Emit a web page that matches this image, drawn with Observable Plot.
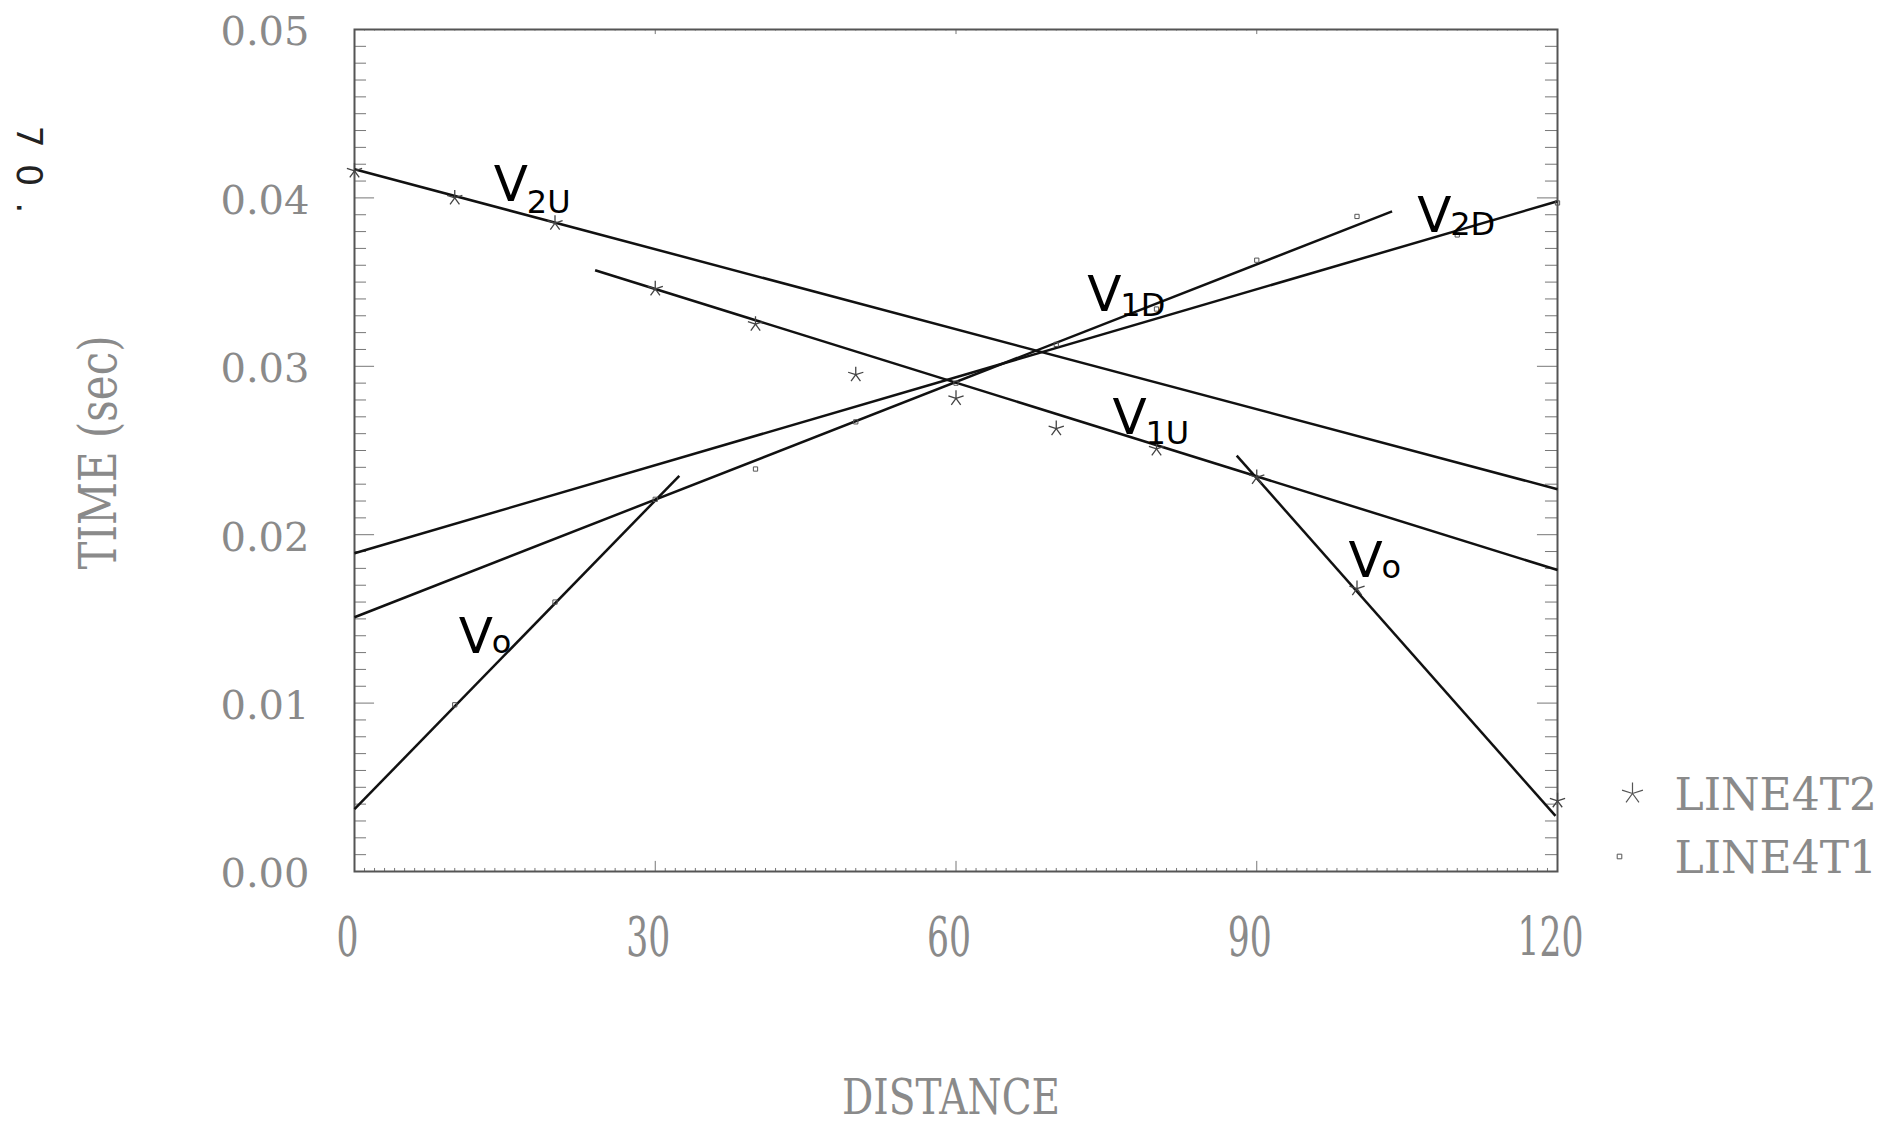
<!DOCTYPE html>
<html><head><meta charset="utf-8">
<script src="https://cdn.jsdelivr.net/npm/d3@7"></script>
<script src="https://cdn.jsdelivr.net/npm/@observablehq/plot@0.6"></script>
<style>body{margin:0;background:#fff}#chart{width:1878px;height:1125px}</style>
</head><body><div id="chart"></div>
<script>
// ---- data ----
const seriesNames = ["LINE4T2", "LINE4T1"];
const t2Distance = [0, 10, 20, 30, 40, 50, 60, 70, 80, 90, 100, 120];
const t2Time = [0.0416, 0.0400, 0.0385, 0.0346, 0.0325, 0.0295, 0.0281, 0.0263, 0.0251, 0.0234, 0.0168, 0.0042];
const t1Distance = [10, 20, 30, 40, 50, 60, 70, 80, 90, 100, 110, 120];
const t1Time = [0.0099, 0.0160, 0.0221, 0.0239, 0.0267, 0.0290, 0.0313, 0.0334, 0.0363, 0.0389, 0.0378, 0.0397];

// hand-drawn velocity lines (end points in data units)
const fitNames = ["V2U", "V1U", "V2D", "V1D", "Vo", "Vo"];
const fitX1 = [0, 24, 0, 0, 0, 88];
const fitT1 = [0.0417, 0.0357, 0.0189, 0.0151, 0.0037, 0.0247];
const fitX2 = [120, 120, 120, 103.5, 32.4, 119.8];
const fitT2 = [0.0227, 0.0179, 0.0398, 0.0392, 0.0235, 0.0033];

// handwritten labels: main letter + subscript, anchored in data units
const labelMain = ["V", "V", "V", "V", "V", "V"];
const labelSub = ["2U", "1D", "1U", "2D", "o", "o"];
const labelX = [13.9, 73.1, 75.6, 106.0, 10.4, 99.15];
const labelT = [0.0398, 0.0333, 0.0260, 0.0380, 0.0130, 0.0175];
const subT = [0.0391, 0.0330, 0.0254, 0.0378, 0.0130, 0.0174];

const xTicks = [0, 30, 60, 90, 120];
const yTicks = [0, 0.01, 0.02, 0.03, 0.04, 0.05];
const xLabel = "DISTANCE";
const yLabel = "TIME (sec)";
const note = "70.";

// ---- build tables ----
const stars = t2Distance.map((d, i) => ({x: d, t: t2Time[i]}));
const squares = t1Distance.map((d, i) => ({x: d, t: t1Time[i]}));
const fits = fitNames.map((n, i) => ({name: n, x1: fitX1[i], t1: fitT1[i], x2: fitX2[i], t2: fitT2[i]}));
const mains = labelMain.map((s, i) => ({s, x: labelX[i], t: labelT[i]}));
const subs = labelSub.map((s, i) => ({s, x: labelX[i], t: subT[i]}));
const yMinor = d3.range(0, 51).map(i => i / 1000);
const xMinor = d3.range(0, 121);

const star5 = {
  draw(ctx, size) {
    const r = Math.sqrt(size / Math.PI);
    for (let i = 0; i < 5; i++) {
      const a = i * 2 * Math.PI / 5;
      ctx.moveTo(0, 0);
      ctx.lineTo(r * Math.sin(a), -r * Math.cos(a));
    }
  }
};

const gray = "#8a8a8a";
const ylen = d => (Math.round(d * 1000) % 10 === 0 ? 2.0 : 1.2);
const xlen = d => (d % 30 === 0 ? 0.0006 : 0.00018);

const svg = Plot.plot({
  width: 1878, height: 1125,
  marginLeft: 354, marginRight: 321, marginTop: 29, marginBottom: 254,
  x: {domain: [0, 120], axis: null},
  y: {domain: [0, 0.05], axis: null},
  style: {background: "#fff", overflow: "visible"},
  marks: [
    // inner ticks
    Plot.ruleY(yMinor, {y: d => d, x1: 0, x2: ylen, stroke: "#777", strokeWidth: 1}),
    Plot.ruleY(yMinor, {y: d => d, x1: 120, x2: d => 120 - ylen(d), stroke: "#777", strokeWidth: 1}),
    Plot.ruleX(xMinor, {x: d => d, y1: 0, y2: xlen, stroke: "#777", strokeWidth: 1}),
    Plot.ruleX(xMinor, {x: d => d, y1: 0.05, y2: d => 0.05 - xlen(d) / 2, stroke: "#777", strokeWidth: 1}),
    Plot.frame({stroke: "#555", strokeWidth: 2}),
    // tick labels
    Plot.text(yTicks, {x: 0, y: d => d, text: d => d3.format(".2f")(d), textAnchor: "end", dx: -45, dy: 3,
      fontSize: 40, fontFamily: "DejaVu Serif", fill: gray}),
    Plot.text(xTicks, {x: d => d, y: 0, text: d => String(d), dx: -7, dy: 67,
      fontSize: 54, fontFamily: "DejaVu Serif", fill: gray}),
    // axis titles
    Plot.text([xLabel], {frameAnchor: "bottom", textAnchor: "middle", lineAnchor: "middle", dx: -5, dy: 227,
      fontSize: 48, fontFamily: "DejaVu Serif", fill: gray}),
    Plot.text([yLabel], {frameAnchor: "left", textAnchor: "middle", lineAnchor: "middle", dx: -255, dy: 2, rotate: -90,
      fontSize: 53, fontFamily: "DejaVu Serif", fill: gray}),
    Plot.text([note], {frameAnchor: "top-left", textAnchor: "middle", lineAnchor: "middle", dx: -326, dy: 140, rotate: 90,
      fontSize: 35, fontFamily: "DejaVu Sans", fill: "#222"}),
    // fitted lines
    Plot.link(fits, {x1: "x1", y1: "t1", x2: "x2", y2: "t2", stroke: "#111", strokeWidth: 2.5}),
    // data points
    Plot.dot(stars, {x: "x", y: "t", symbol: star5, r: 8, stroke: "#444", strokeWidth: 1.3, fill: "none"}),
    Plot.dot(squares, {x: "x", y: "t", symbol: "square", r: 2.4, stroke: "#555", strokeWidth: 1, fill: "none"}),
    // handwritten labels
    Plot.text(mains, {x: "x", y: "t", text: "s", textAnchor: "start", lineAnchor: "bottom", fontSize: 50, fontFamily: "DejaVu Sans", fill: "#000"}),
    Plot.text(subs, {x: "x", y: "t", text: "s", textAnchor: "start", lineAnchor: "bottom", dx: 33, fontSize: 32, fontFamily: "DejaVu Sans", fill: "#000"}),
    // legend
    Plot.dot([seriesNames[0]], {frameAnchor: "right", dx: 75, dy: 343, symbol: star5, r: 11, stroke: "#555", strokeWidth: 1.2, fill: "none"}),
    Plot.dot([seriesNames[1]], {frameAnchor: "right", dx: 62, dy: 406, symbol: "square", r: 2.6, stroke: "#555", strokeWidth: 1, fill: "none"}),
    Plot.text([seriesNames[0]], {frameAnchor: "right", dx: 117, dy: 345, text: d => d, textAnchor: "start", lineAnchor: "middle",
      fontSize: 44, fontFamily: "DejaVu Serif", fill: gray}),
    Plot.text([seriesNames[1]], {frameAnchor: "right", dx: 117, dy: 408, text: d => d, textAnchor: "start", lineAnchor: "middle",
      fontSize: 44, fontFamily: "DejaVu Serif", fill: gray})
  ]
});

document.getElementById("chart").appendChild(svg);

// condensed / spaced plotter-style text
const sel = d3.select(svg);
sel.selectAll("g[font-size='54'] text").each(function () {
  this.setAttribute("textLength", this.textContent.length * 22);
  this.setAttribute("lengthAdjust", "spacingAndGlyphs");
});
sel.selectAll("g[font-size='48'] text").each(function () {
  this.setAttribute("textLength", 218);
  this.setAttribute("lengthAdjust", "spacingAndGlyphs");
});
sel.selectAll("g[font-size='53'] text").each(function () {
  this.setAttribute("textLength", 234);
  this.setAttribute("lengthAdjust", "spacingAndGlyphs");
});
sel.selectAll("g[font-size='35'] text").each(function () {
  this.setAttribute("textLength", 88);
  this.setAttribute("lengthAdjust", "spacing");
});
</script>
</body></html>
